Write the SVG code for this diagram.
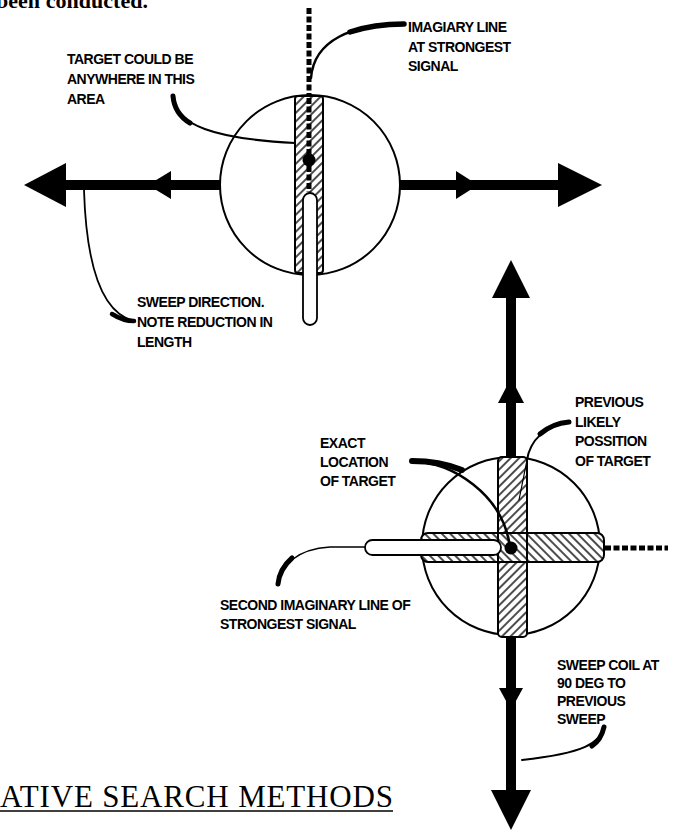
<svg xmlns="http://www.w3.org/2000/svg" width="677" height="831" viewBox="0 0 677 831">
<style>
.lbl{font-family:"Liberation Sans",Arial,sans-serif;font-weight:bold;font-size:14px;letter-spacing:-0.5px;fill:#000}
.ol{fill:none;stroke:#000;stroke-width:2}
.bar1{fill:url(#hatchF);stroke:#000;stroke-width:2}
.bar2{fill:url(#hatchB);stroke:#000;stroke-width:2}
.slot{fill:#fff;stroke:#000;stroke-width:1.8}
.shaft{stroke:#000;stroke-width:10;fill:none}
.dash{stroke:#000;stroke-width:5;stroke-dasharray:6 2.5;fill:none}
.lead{fill:none;stroke:#000;stroke-linecap:round}
.head{fill:#000}
</style>
<defs>
<pattern id="hatchF" patternUnits="userSpaceOnUse" width="6" height="6" patternTransform="rotate(45)">
<rect width="6" height="6" fill="#fff"/><line x1="1" y1="0" x2="1" y2="6" stroke="#000" stroke-width="1.4"/>
</pattern>
<pattern id="hatchB" patternUnits="userSpaceOnUse" width="6" height="6" patternTransform="rotate(-45)">
<rect width="6" height="6" fill="#fff"/><line x1="1" y1="0" x2="1" y2="6" stroke="#000" stroke-width="1.4"/>
</pattern>
</defs>
<rect width="677" height="831" fill="#fff"/>

<text x="-4" y="8" font-family="Liberation Serif,serif" font-weight="bold" font-size="22" textLength="152">been conducted.</text>

<g id="coil1">
<circle cx="310" cy="185" r="90" class="ol"/>
<line x1="309" y1="8" x2="309" y2="96" class="dash"/>
<rect x="295" y="96" width="28" height="177" rx="3" class="bar1"/>
<rect x="303" y="193" width="14" height="132" rx="7" class="slot"/>
<line x1="309" y1="98" x2="309" y2="192" class="dash"/>
<circle cx="309" cy="160" r="6.5" fill="#000"/>
</g>

<g id="sweep1">
<line x1="55" y1="185" x2="220" y2="185" class="shaft"/>
<polygon points="24,185 66,163 66,207" class="head"/>
<polygon points="148,185 171,171 171,199" class="head"/>
<line x1="400" y1="185" x2="565" y2="185" class="shaft"/>
<polygon points="478,185 456,171 456,199" class="head"/>
<polygon points="602,185 558,163 558,207" class="head"/>
</g>

<g id="coil2">
<circle cx="511" cy="546" r="89" class="ol"/>
<rect x="498" y="457" width="29" height="180" rx="4" class="bar1"/>
<rect x="421" y="533" width="183" height="29" rx="7" class="bar2"/>
<line x1="498" y1="533" x2="498" y2="562" stroke="#000" stroke-width="2"/>
<line x1="527" y1="533" x2="527" y2="562" stroke="#000" stroke-width="2"/>
<rect x="365" y="540" width="136" height="15" rx="7.5" class="slot"/>
<circle cx="511" cy="548" r="6.5" fill="#000"/>
<line x1="605" y1="548" x2="668" y2="548" class="dash"/>
</g>

<g id="sweep2">
<line x1="511" y1="296" x2="511" y2="457" class="shaft"/>
<polygon points="511,260 492,298 530,298" class="head"/>
<polygon points="511,378 498,403 524,403" class="head"/>
<line x1="511" y1="636" x2="511" y2="795" class="shaft"/>
<polygon points="511,710 499,688 523,688" class="head"/>
<polygon points="511,830 491,790 531,790" class="head"/>
</g>

<g id="connectors">
<path d="M404,24 C352,24 314,40 311,78" class="lead" stroke-width="2.5"/>
<path d="M404,24 C385,24 365,27 350,32" class="lead" stroke-width="5.5"/>
<path d="M173,97 C175,125 215,139 295,143" class="lead" stroke-width="2"/>
<path d="M173,96 C174,108 180,117 190,123" class="lead" stroke-width="5"/>
<path d="M84,190 C86,255 98,312 134,321" class="lead" stroke-width="1.8"/>
<path d="M112,314 C120,319 126,321 134,321" class="lead" stroke-width="4.5"/>
<path d="M412,461 C455,463 500,495 509,541" class="lead" stroke-width="2.5"/>
<path d="M412,461 C430,461 447,464 462,470" class="lead" stroke-width="6"/>
<path d="M569,422 C546,425 530,440 527,460" class="lead" stroke-width="2"/>
<path d="M527,460 L519,500" class="lead" stroke-width="1.2"/>
<path d="M569,422 C557,423 547,428 540,434" class="lead" stroke-width="5"/>
<path d="M278,584 C281,566 296,549 330,547 L365,547" class="lead" stroke-width="1.5"/>
<path d="M278,584 C279,574 284,565 292,558" class="lead" stroke-width="5"/>
<path d="M604,727 C600,743 585,753 522,760" class="lead" stroke-width="2"/>
<path d="M604,727 C602,736 598,742 592,746" class="lead" stroke-width="5"/>
</g>

<g id="labels">
<text class="lbl"><tspan x="408" y="32">IMAGIARY LINE</tspan><tspan x="408" y="51.5">AT STRONGEST</tspan><tspan x="408" y="71">SIGNAL</tspan></text>
<text class="lbl"><tspan x="67" y="63.5">TARGET COULD BE</tspan><tspan x="67" y="83.5">ANYWHERE IN THIS</tspan><tspan x="67" y="103.5">AREA</tspan></text>
<text class="lbl"><tspan x="137" y="307">SWEEP DIRECTION.</tspan><tspan x="137" y="327">NOTE REDUCTION IN</tspan><tspan x="137" y="347">LENGTH</tspan></text>
<text class="lbl"><tspan x="320" y="448">EXACT</tspan><tspan x="320" y="467">LOCATION</tspan><tspan x="320" y="486">OF TARGET</tspan></text>
<text class="lbl"><tspan x="575" y="407">PREVIOUS</tspan><tspan x="575" y="427">LIKELY</tspan><tspan x="575" y="446">POSSITION</tspan><tspan x="575" y="466">OF TARGET</tspan></text>
<text class="lbl"><tspan x="220" y="610">SECOND IMAGINARY LINE OF</tspan><tspan x="220" y="629">STRONGEST SIGNAL</tspan></text>
<text class="lbl"><tspan x="557" y="670">SWEEP COIL AT</tspan><tspan x="557" y="688">90 DEG TO</tspan><tspan x="557" y="706">PREVIOUS</tspan><tspan x="557" y="724">SWEEP</tspan></text>
</g>

<g id="heading">
<text x="0" y="807" font-family="Liberation Serif,serif" font-size="31" textLength="393">ATIVE SEARCH METHODS</text>
<line x1="0" y1="811" x2="393" y2="811" stroke="#000" stroke-width="1.6"/>
</g>
</svg>
